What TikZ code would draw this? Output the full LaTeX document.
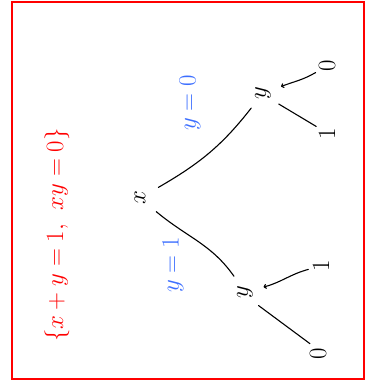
\documentclass[tikz,border=0pt]{standalone}
\usetikzlibrary{arrows.meta}
\begin{document}
\begin{tikzpicture}[x=1pt,y=-1pt,
  frame/.style={draw=red,line width=2pt},
  vnode/.style={circle,inner sep=0pt,minimum size=#1,font=\fontsize{32}{32}\selectfont},
  leaf/.style={circle,inner sep=0pt,minimum size=26pt,font=\fontsize{27}{27}\selectfont},
  edge/.style={line width=1.1pt,line cap=round},
  tipedge/.style={edge,-{To[length=3pt,width=5pt]}},
  cond/.style={inner sep=0pt,text={rgb,255:red,60;green,110;blue,255},font=\fontsize{26}{26}\selectfont},
  eq/.style={inner sep=0pt,text=red,font=\fontsize{31}{31}\selectfont}]
\useasboundingbox (0,0) rectangle (366,382);
\draw[frame] (12,2) rectangle (364,379);
% nodes
\node[vnode=42pt] (x) at (140,198) {\rotatebox{90}{$x$}};
\node[vnode=38pt] (ya) at (263,93) {\rotatebox{90}{$y$}};
\node[vnode=38pt] (yb) at (245,292) {\rotatebox{90}{$y$}};
\node[leaf] (a0) at (327,66) {\rotatebox{90}{$0$}};
\node[leaf] (a1) at (327,134) {\rotatebox{90}{$1$}};
\node[leaf] (b1) at (321,266) {\rotatebox{90}{$1$}};
\node[leaf] (b0) at (318,354) {\rotatebox{90}{$0$}};
% labels
\node[cond] (la) at (190,103) {\rotatebox{90}{$y=0$}};
\node[cond] (lb) at (173,265) {\rotatebox{90}{$y=1$}};
\node[eq] (eqn) at (57,235) {\rotatebox{90}{$\{x+y=1,\ xy=0\}$}};
% connectors
\draw[edge] (x) to[out=30,in=-128] (ya);
\draw[edge] (x) to[out=-40,in=125] (yb);
\draw[tipedge] (a0) to[out=-150,in=20] (ya);
\draw[edge] (ya.-35) -- (a1.145);
\draw[tipedge] (b1) to[out=-165,in=15] (yb);
\draw[edge] (yb.-45) -- (b0.128);
\end{tikzpicture}
\end{document}
